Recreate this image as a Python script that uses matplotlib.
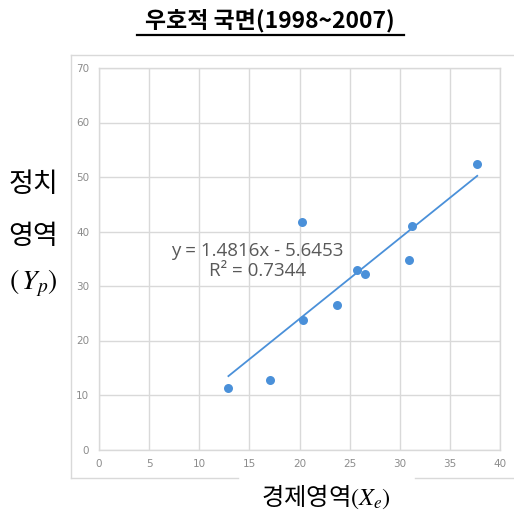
import numpy as np
import matplotlib.pyplot as plt
from matplotlib.lines import Line2D

# economic domain (x) vs political domain (y), 1998~2007
x_econ = [12.9, 17.0, 20.3, 23.7, 25.7, 26.5, 30.9, 20.2, 31.2, 37.7]
y_pol = [11.3, 12.7, 23.7, 26.5, 33.0, 32.2, 34.7, 41.7, 41.0, 52.3]

# linear trendline as reported
slope = 1.4816
intercept = -5.6453
r_squared = 0.7344

x_ticks = [0, 5, 10, 15, 20, 25, 30, 35, 40]
y_ticks = [0, 10, 20, 30, 40, 50, 60, 70]

title_text = '우호적 국면(1998~2007)'
ylabel_lines = ['정치', '영역']
xlabel_text = '경제영역'

blue = '#4a90d9'
grid_c = '#d9d9d9'
tick_c = '#8c8c8c'
kfont = ['Noto Sans CJK KR', 'DejaVu Sans']

fig = plt.figure(figsize=(5.14, 5.17), dpi=100)
W, H = 514.0, 517.0

# light chart frame, broken at the bottom under the x label
fig.add_artist(Line2D([71 / W, 514 / W], [1 - 54.5 / H, 1 - 54.5 / H], color=grid_c, lw=1.0))
fig.add_artist(Line2D([71 / W, 71 / W], [1 - 54.5 / H, 1 - 477.5 / H], color=grid_c, lw=1.0))
fig.add_artist(Line2D([71 / W, 238 / W], [1 - 477.5 / H, 1 - 477.5 / H], color=grid_c, lw=1.0))
fig.add_artist(Line2D([415 / W, 514 / W], [1 - 477.5 / H, 1 - 477.5 / H], color=grid_c, lw=1.0))

ax = fig.add_axes([99 / W, 1 - 449.5 / H, 401.3 / W, 381.5 / H])
ax.set_xlim(0, 40)
ax.set_ylim(0, 70)
ax.set_xticks(x_ticks)
ax.set_yticks(y_ticks)
ax.grid(True, color=grid_c, lw=1.0)
ax.set_axisbelow(True)
for s in ax.spines.values():
    s.set_color(grid_c)
    s.set_linewidth(1.0)
ax.tick_params(length=0, colors=tick_c, labelsize=7.5, pad=7)
for lab in ax.get_xticklabels() + ax.get_yticklabels():
    lab.set_color(tick_c)

xs = np.array([min(x_econ), max(x_econ)])
ax.plot(xs, slope * xs + intercept, color=blue, lw=1.3, zorder=3)
ax.scatter(x_econ, y_pol, s=42, color=blue, zorder=4, linewidths=0)

sign = '-' if intercept < 0 else '+'
eq = 'y = %.4fx %s %.4f\nR² = %.4f' % (slope, sign, abs(intercept), r_squared)
ax.text(15.8, 34.6, eq, ha='center', va='center', fontsize=13.5, color='#595959',
        family='Open Sans', linespacing=1.2)

# title with underline
fig.text(270 / W, 1 - 21 / H, title_text, ha='center', va='center', fontsize=16.5,
         family=kfont, fontweight='bold', color='black')
fig.add_artist(Line2D([137 / W, 404 / W], [1 - 35 / H, 1 - 35 / H], color='black', lw=1.6))

# y label stacked on the left
fig.text(33 / W, 1 - 185 / H, ylabel_lines[0], ha='center', va='center', fontsize=19.5,
         family=kfont, fontweight='light')
fig.text(33 / W, 1 - 237 / H, ylabel_lines[1], ha='center', va='center', fontsize=19.5,
         family=kfont, fontweight='light')
fig.text(33 / W, 1 - 283 / H, r'$(\,Y_p)$', ha='center', va='center', fontsize=20,
         math_fontfamily='stix')

fig.text(326 / W, 1 - 497 / H, xlabel_text + r'$(X_e)$', ha='center', va='center',
         fontsize=17.5, family=kfont, fontweight='light', math_fontfamily='stix')

fig.savefig('out.png', dpi=100)
